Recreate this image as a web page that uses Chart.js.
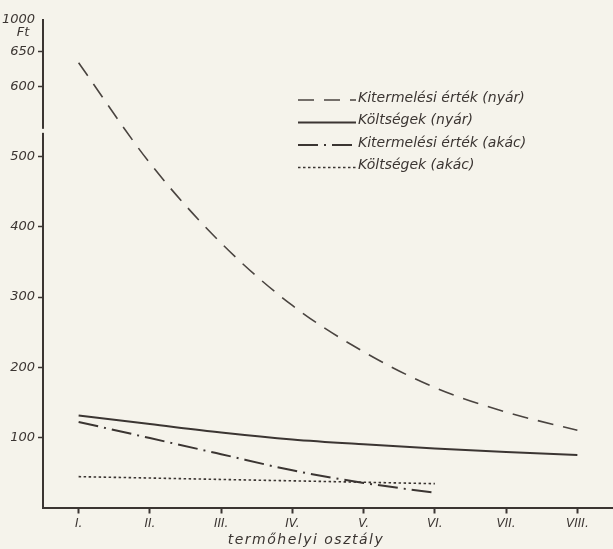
<!DOCTYPE html>
<html>
<head>
<meta charset="utf-8">
<script src="https://cdn.jsdelivr.net/npm/chart.js@4/dist/chart.umd.min.js"></script>
<style>
  html, body { margin: 0; padding: 0; background: #f5f3eb; }
  #wrap { width: 613px; height: 549px; }
</style>
</head>
<body>
<div id="wrap"><canvas id="myChart" width="613" height="549"></canvas></div>
<script>
// termőhelyi osztályok
const classes = ['I.', 'II.', 'III.', 'IV.', 'V.', 'VI.', 'VII.', 'VIII.'];
// Ft értékek osztályonként
const nyarErtek = [634, 491, 377, 288, 222, 171, 136, 110];
const nyarKoltseg = [131, 119, 107, 97, 90, 84, 79, 75];
const akacErtek = [122, 99, 76, 53, 35, 21];
const akacKoltseg = [44, 42, 40, 38, 36, 34];
const seriesNames = ['Kitermelési érték (nyár)', 'Költségek (nyár)', 'Kitermelési érték (akác)', 'Költségek (akác)'];
const yTicks = [100, 200, 300, 400, 500, 600, 650];
const yTop = 695;          // tengely vége, "1000" felirattal (megtört tengely)
const yTopLabel = '1000';
const yBreak = 537;

const ink = '#3b3532';
const lineInk = '#4a4440';
const paper = '#f5f3eb';
const handFont = '"DejaVu Sans"';

// jelmagyarázat, Ft felirat, tengelytörés, x tengely címe
const extras = {
  id: 'extras',
  afterDraw(chart) {
    const ctx = chart.ctx;
    const y = chart.scales.y;
    ctx.save();

    // tengelytörés
    const by = y.getPixelForValue(yBreak);
    ctx.fillStyle = paper;
    ctx.fillRect(y.right - 4, by - 2, 8, 4);

    ctx.fillStyle = ink;
    ctx.font = 'italic 13px ' + handFont;
    ctx.textAlign = 'center';
    ctx.textBaseline = 'middle';
    ctx.fillText('Ft', 23, 33);

    // x tengely címe
    ctx.font = 'italic 14px ' + handFont;
    ctx.letterSpacing = '1.5px';
    ctx.fillText('termőhelyi osztály', 306, 540);
    ctx.letterSpacing = '0px';

    // jelmagyarázat
    ctx.textAlign = 'left';
    ctx.font = 'italic 14px ' + handFont;
    chart.data.datasets.forEach((ds, i) => {
      const ly = 98 + i * 22.5;
      ctx.strokeStyle = ds.borderColor;
      ctx.lineWidth = ds.borderWidth;
      ctx.setLineDash(ds.borderDash || []);
      ctx.beginPath();
      ctx.moveTo(298, ly + 2);
      ctx.lineTo(356, ly + 2);
      ctx.stroke();
      ctx.setLineDash([]);
      ctx.fillText(ds.label, 358, ly);
    });
    ctx.restore();
  }
};

const myChartRef = document.getElementById('myChart').getContext('2d');

new Chart(myChartRef, {
  type: 'line',
  data: {
    labels: classes,
    datasets: [
      { label: seriesNames[0], data: nyarErtek, borderColor: lineInk, borderWidth: 1.6, borderDash: [16, 10] },
      { label: seriesNames[1], data: nyarKoltseg, borderColor: ink, borderWidth: 2 },
      { label: seriesNames[2], data: akacErtek, borderColor: ink, borderWidth: 2, borderDash: [20, 6, 2, 6] },
      { label: seriesNames[3], data: akacKoltseg, borderColor: ink, borderWidth: 1.6, borderDash: [2.5, 2.5] }
    ]
  },
  options: {
    responsive: false,
    animation: false,
    cubicInterpolationMode: 'monotone',
    elements: { point: { radius: 0 } },
    layout: { padding: { top: 20, right: 0, left: 0, bottom: 0 } },
    plugins: { legend: { display: false }, tooltip: { enabled: false } },
    scales: {
      x: {
        offset: true,
        grid: { offset: false, drawOnChartArea: false, tickLength: 6, tickColor: ink, tickWidth: 2 },
        border: { color: ink, width: 2 },
        ticks: { color: ink, padding: 3, font: { family: handFont, style: 'italic', size: 12 } },
        afterFit(scale) { scale.height = 41.5; }
      },
      y: {
        min: 0,
        max: yTop,
        afterBuildTicks(scale) {
          scale.ticks = yTicks.concat([yTop]).map(v => ({ value: v }));
        },
        grid: {
          drawOnChartArea: false,
          tickLength: 5,
          tickWidth: 1.5,
          tickColor: c => (c.tick && c.tick.value === yTop ? 'rgba(0,0,0,0)' : ink)
        },
        border: { color: ink, width: 2 },
        ticks: {
          color: ink,
          padding: 3,
          font: { family: handFont, style: 'italic', size: 13 },
          callback: v => (v === yTop ? yTopLabel : v)
        },
        afterFit(scale) { scale.width = 43; }
      }
    }
  },
  plugins: [extras]
});
</script>
</body>
</html>
